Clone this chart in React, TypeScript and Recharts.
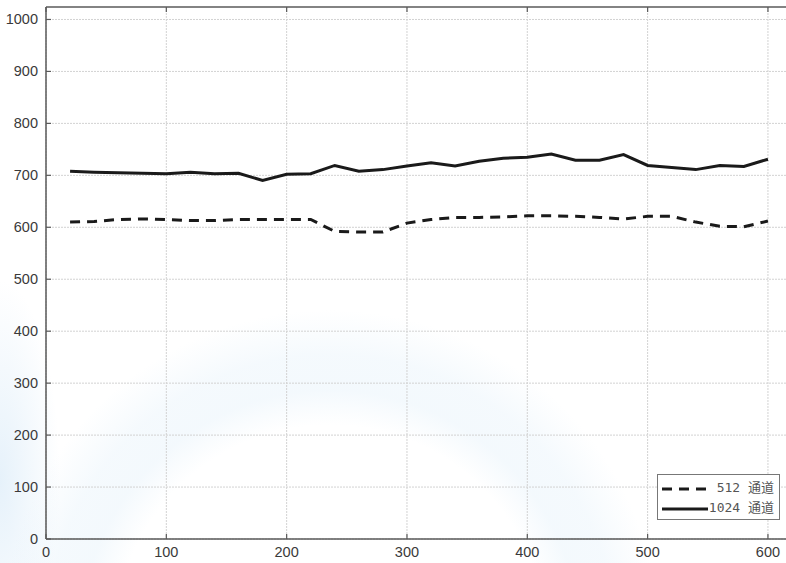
import { ComposedChart, Line, XAxis, YAxis, CartesianGrid, ReferenceLine } from 'recharts'

// sample positions (every 20 units)
const positions = [
  20, 40, 60, 80, 100, 120, 140, 160, 180, 200, 220, 240, 260, 280, 300,
  320, 340, 360, 380, 400, 420, 440, 460, 480, 500, 520, 540, 560, 580, 600,
]

// 512-channel readings
const ch512 = [
  610, 611, 615, 616, 615, 613, 613, 615, 615, 615, 615, 592, 591, 591, 608,
  615, 619, 619, 620, 622, 622, 621, 619, 616, 621, 621, 610, 602, 601, 612,
]

// 1024-channel readings
const ch1024 = [
  708, 706, 705, 704, 703, 706, 703, 704, 690, 702, 703, 719, 708, 711, 718,
  724, 718, 727, 733, 735, 741, 729, 729, 740, 719, 715, 711, 719, 717, 731,
]

const xTicks = [0, 100, 200, 300, 400, 500, 600]
const yTicks = [0, 100, 200, 300, 400, 500, 600, 700, 800, 900, 1000]

const legendNames = ['512 通道', '1024 通道']

const rows = positions.map((x, i) => ({ x, a: ch512[i], b: ch1024[i] }))

const PLOT_TOP = 7
const FRAME = '#5a5a5a'
const LABEL = '#3a3a3a'
const FONT = '"Liberation Sans", Arial, sans-serif'

// labels outside, short tick marks pointing into the plot (top and bottom)
function XTick({ x, y, payload }: any) {
  const base = y - 6
  return (
    <g>
      <line x1={x} x2={x} y1={base} y2={base - 5} stroke={FRAME} strokeWidth={1.2} />
      <line x1={x} x2={x} y1={PLOT_TOP} y2={PLOT_TOP + 5} stroke={FRAME} strokeWidth={1.2} />
      <text x={x} y={y + 12} textAnchor="middle" fill={LABEL} fontSize={14.5} fontFamily={FONT}>
        {payload.value}
      </text>
    </g>
  )
}

function YTick({ x, y, payload }: any) {
  const base = x + 8
  return (
    <g>
      <line x1={base} x2={base + 5} y1={y} y2={y} stroke={FRAME} strokeWidth={1.2} />
      <text x={x} y={y + 5} textAnchor="end" fill={LABEL} fontSize={14.5} fontFamily={FONT}>
        {payload.value}
      </text>
    </g>
  )
}

function LegendBox() {
  const text = { fontFamily: '"DejaVu Sans Mono", "Noto Sans CJK SC", monospace', fontSize: 13, color: '#555' }
  return (
    <div
      style={{
        position: 'absolute',
        left: 657,
        top: 474,
        width: 123,
        height: 46,
        border: '1px solid #777',
        background: '#fff',
        boxSizing: 'border-box',
        padding: '3px 5px 0 3px',
      }}
    >
      <svg width={110} height={40} style={{ position: 'absolute', left: 2, top: 1 }}>
        <line x1={2} x2={46} y1={13} y2={13} stroke="#1a1a1a" strokeWidth={3} strokeDasharray="10 7" />
        <line x1={2} x2={48} y1={33} y2={33} stroke="#1a1a1a" strokeWidth={3} />
      </svg>
      <div style={{ ...text, textAlign: 'right', lineHeight: '20px' }}>{legendNames[0]}</div>
      <div style={{ ...text, textAlign: 'right', lineHeight: '20px' }}>{legendNames[1]}</div>
    </div>
  )
}

// faint blue backdrop behind the plot
const backdrop = [
  'radial-gradient(circle at 330px 640px, transparent 215px, rgba(214,234,248,0.28) 250px, rgba(214,234,248,0.25) 285px, transparent 330px)',
  'radial-gradient(ellipse 60px 200px at 0px 480px, rgba(205,228,246,0.5), transparent)',
].join(',')

export default function App() {
  return (
    <div style={{ position: 'relative', width: 786, height: 563, overflow: 'hidden', background: '#fff' }}>
      <style>{'body{margin:0}'}</style>
      <div style={{ position: 'absolute', inset: 0, background: backdrop }} />
      <div style={{ position: 'absolute', left: 0, top: 0 }}>
        <ComposedChart width={786} height={563} data={rows} margin={{ top: PLOT_TOP, right: 0, left: 0, bottom: 0 }}>
          <CartesianGrid stroke="#d2d2d2" strokeDasharray="2 1" horizontalValues={yTicks} verticalValues={xTicks} />
          <XAxis
            type="number"
            dataKey="x"
            domain={[0, 615]}
            ticks={xTicks}
            height={24}
            tickLine={false}
            tickSize={0}
            tickMargin={6}
            axisLine={{ stroke: FRAME, strokeWidth: 1.5 }}
            tick={<XTick />}
            allowDataOverflow
          />
          <YAxis
            type="number"
            domain={[0, 1024]}
            ticks={yTicks}
            width={46}
            tickLine={false}
            tickSize={0}
            tickMargin={8}
            axisLine={{ stroke: FRAME, strokeWidth: 1.5 }}
            tick={<YTick />}
            allowDataOverflow
          />
          <ReferenceLine y={1024} stroke={FRAME} strokeWidth={1.5} />
          <Line
            dataKey="a"
            name={legendNames[0]}
            stroke="#1a1a1a"
            strokeWidth={3}
            strokeDasharray="10 7"
            dot={false}
            isAnimationActive={false}
          />
          <Line
            dataKey="b"
            name={legendNames[1]}
            stroke="#1a1a1a"
            strokeWidth={3}
            dot={false}
            isAnimationActive={false}
          />
        </ComposedChart>
      </div>
      <LegendBox />
    </div>
  )
}
